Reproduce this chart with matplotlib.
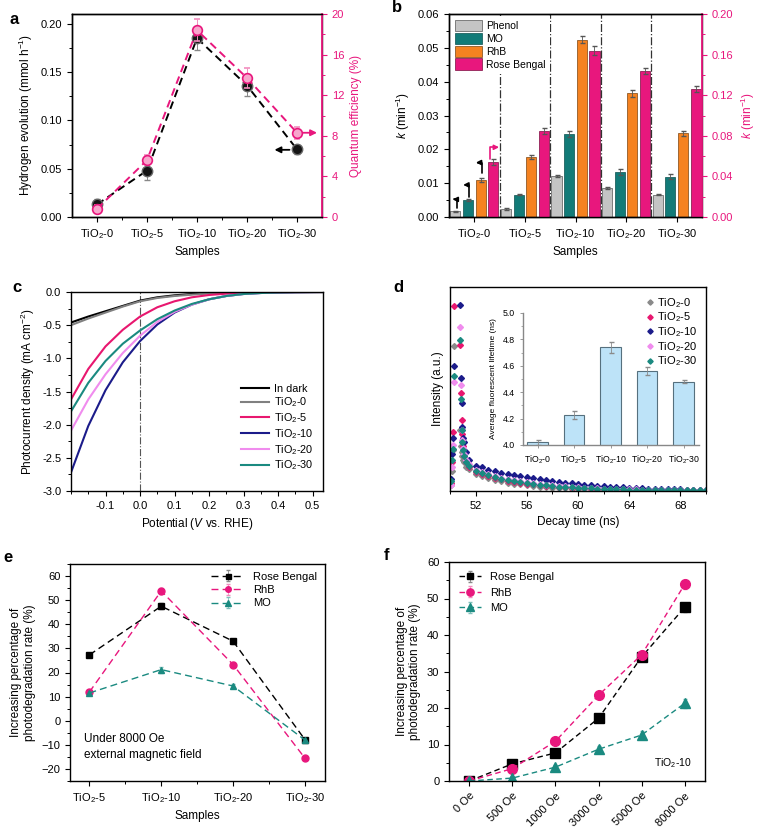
import numpy as np
import matplotlib
matplotlib.use("Agg")
import matplotlib.pyplot as plt
from matplotlib.ticker import MultipleLocator, FixedLocator
from matplotlib.patches import Patch

plt.rcParams['font.family'] = ['Liberation Sans', 'DejaVu Sans']
plt.rcParams['mathtext.fontset'] = 'custom'
plt.rcParams['mathtext.rm'] = 'Liberation Sans'
plt.rcParams['mathtext.it'] = 'Liberation Sans:italic'
plt.rcParams['mathtext.bf'] = 'Liberation Sans:bold'
plt.rcParams['axes.linewidth'] = 1.0

PINK = '#E8177D'
TEAL = '#127B78'
ORANGE = '#F58220'
GRAY = '#C4C4C4'
NAVY = '#1B1B8A'
VIOLET = '#F08CEE'

samples = ['TiO$_2$-0', 'TiO$_2$-5', 'TiO$_2$-10', 'TiO$_2$-20', 'TiO$_2$-30']

# a: hydrogen evolution and quantum efficiency
h2 = [0.013, 0.048, 0.185, 0.136, 0.070]
h2_err = [0.006, 0.010, 0.012, 0.011, 0.005]
qe = [0.8, 5.6, 18.4, 13.7, 8.3]
qe_err = [0.4, 0.5, 1.1, 1.0, 0.6]

# b: rate constants
phenol = [0.0017, 0.0024, 0.0121, 0.0086, 0.0066]
phenol_err = [0.0002, 0.0002, 0.0003, 0.0002, 0.0001]
mo = [0.0050, 0.0066, 0.0245, 0.0134, 0.0119]
mo_err = [0.0002, 0.0002, 0.0008, 0.0009, 0.0007]
rhb = [0.0108, 0.0178, 0.0524, 0.0366, 0.0247]
rhb_err = [0.0006, 0.0006, 0.0011, 0.0010, 0.0007]
rose = [0.054, 0.085, 0.164, 0.144, 0.126]
rose_err = [0.003, 0.003, 0.004, 0.003, 0.003]

# c: photocurrent curves
potential = [-0.2, -0.15, -0.1, -0.05, 0.0, 0.05, 0.1, 0.15, 0.2, 0.25, 0.3, 0.35, 0.4, 0.45, 0.5, 0.53]
j_dark = [-0.46, -0.37, -0.29, -0.21, -0.13, -0.08, -0.05, -0.03, -0.015, -0.008, -0.004, -0.002, -0.001, 0, 0, 0]
j_0 = [-0.50, -0.40, -0.31, -0.22, -0.14, -0.09, -0.06, -0.04, -0.02, -0.01, -0.005, -0.002, -0.001, 0, 0, 0]
j_5 = [-1.62, -1.16, -0.82, -0.57, -0.37, -0.23, -0.14, -0.08, -0.045, -0.025, -0.012, -0.006, -0.003, -0.001, 0, 0]
j_10 = [-2.72, -2.02, -1.48, -1.06, -0.74, -0.49, -0.31, -0.19, -0.11, -0.06, -0.03, -0.015, -0.007, -0.003, -0.001, 0]
j_20 = [-2.09, -1.62, -1.24, -0.92, -0.66, -0.45, -0.30, -0.19, -0.11, -0.06, -0.03, -0.015, -0.007, -0.003, -0.001, 0]
j_30 = [-1.80, -1.37, -1.04, -0.78, -0.58, -0.41, -0.28, -0.18, -0.11, -0.06, -0.03, -0.015, -0.007, -0.003, -0.001, 0]

# d: decay curves (head + tail)
head_t = [50.05, 50.15, 50.25, 50.34, 50.8, 50.85, 50.9, 50.95, 51.0, 51.1, 51.25]
tail_t = list(np.arange(51.5, 70.01, 0.5))
d_gray = [0.03, 0.10, 0.20, 0.711, 0.30, 0.22, 0.19, 0.17, 0.15, 0.14, 0.12,
          0.110, 0.085, 0.072, 0.062, 0.054, 0.047, 0.041, 0.036, 0.032, 0.028,
          0.025, 0.022, 0.019, 0.017, 0.015, 0.013, 0.012, 0.011, 0.010, 0.009,
          0.008, 0.007, 0.006, 0.006, 0.005, 0.005, 0.004, 0.004, 0.004, 0.003,
          0.003, 0.003, 0.003, 0.002, 0.002, 0.002, 0.002, 0.002]
d_pink = [0.04, 0.14, 0.29, 0.908, 0.715, 0.479, 0.348, 0.28, 0.22, 0.17, 0.14,
          0.120, 0.095, 0.083, 0.073, 0.064, 0.057, 0.051, 0.045, 0.040, 0.036,
          0.032, 0.029, 0.026, 0.023, 0.021, 0.019, 0.017, 0.015, 0.013, 0.012,
          0.011, 0.010, 0.009, 0.008, 0.007, 0.007, 0.006, 0.006, 0.005, 0.005,
          0.004, 0.004, 0.004, 0.003, 0.003, 0.003, 0.003, 0.002]
d_navy = [0.06, 0.18, 0.261, 0.613, 0.913, 0.552, 0.432, 0.315, 0.261, 0.24, 0.19,
          0.150, 0.125, 0.118, 0.105, 0.098, 0.090, 0.083, 0.078, 0.072, 0.068,
          0.062, 0.058, 0.053, 0.048, 0.045, 0.041, 0.037, 0.034, 0.031, 0.028,
          0.026, 0.024, 0.022, 0.020, 0.018, 0.016, 0.015, 0.013, 0.012, 0.011,
          0.010, 0.009, 0.008, 0.008, 0.007, 0.006, 0.006, 0.005]
d_violet = [0.03, 0.12, 0.225, 0.536, 0.805, 0.518, 0.30, 0.25, 0.21, 0.18, 0.15,
            0.130, 0.105, 0.093, 0.082, 0.073, 0.066, 0.059, 0.053, 0.048, 0.043,
            0.039, 0.035, 0.031, 0.028, 0.025, 0.023, 0.021, 0.019, 0.017, 0.015,
            0.014, 0.012, 0.011, 0.010, 0.009, 0.008, 0.008, 0.007, 0.006, 0.006,
            0.005, 0.005, 0.004, 0.004, 0.004, 0.003, 0.003, 0.003]
d_teal = [0.05, 0.15, 0.207, 0.566, 0.741, 0.45, 0.30, 0.24, 0.20, 0.17, 0.14,
          0.125, 0.100, 0.088, 0.077, 0.068, 0.061, 0.054, 0.048, 0.043, 0.039,
          0.035, 0.031, 0.028, 0.025, 0.022, 0.020, 0.018, 0.016, 0.014, 0.013,
          0.012, 0.010, 0.009, 0.009, 0.008, 0.007, 0.007, 0.006, 0.006, 0.005,
          0.005, 0.004, 0.004, 0.004, 0.003, 0.003, 0.003, 0.003]
lifetime = [4.02, 4.23, 4.74, 4.56, 4.48]
lifetime_err = [0.02, 0.03, 0.04, 0.03, 0.01]

# e: increase under 8000 Oe
e_samples = ['TiO$_2$-5', 'TiO$_2$-10', 'TiO$_2$-20', 'TiO$_2$-30']
e_rose = [27.3, 47.5, 33.0, -7.8]
e_rhb = [11.9, 53.8, 23.3, -15.5]
e_mo = [11.5, 21.2, 14.4, -8.0]
e_err = [0.8, 1.2, 1.0, 0.8]

# f: increase vs field for TiO2-10
fields = ['0 Oe', '500 Oe', '1000 Oe', '3000 Oe', '5000 Oe', '8000 Oe']
f_rose = [0.0, 4.7, 7.7, 17.2, 34.0, 47.6]
f_rhb = [0.0, 3.4, 10.9, 23.5, 34.6, 53.9]
f_mo = [0.0, 0.8, 3.8, 8.7, 12.6, 21.3]
f_err = [0.3, 0.6, 0.7, 0.9, 1.0, 1.3]

W, H = 759, 827
fig = plt.figure(figsize=(W / 100, H / 100), dpi=100)


def box(l, t, r, b):
    return [l / W, 1 - b / H, (r - l) / W, (b - t) / H]


def ticks(ax, size=8):
    ax.tick_params(which='major', direction='out', length=3.5, width=0.8, labelsize=size)
    ax.tick_params(which='minor', direction='out', length=2, width=0.7)


LBL = 8.5

# ---------------- a ----------------
axa = fig.add_axes(box(72, 14, 322, 217))
xs = np.arange(5)
axa.errorbar(xs, h2, yerr=h2_err, fmt='o', ms=7.5, mfc='#151515', mec='#666666',
             ecolor='#888888', elinewidth=0.7, capsize=2, zorder=3)
axa.plot(xs, h2, '--', color='black', lw=1.4, dashes=(4, 2.5), zorder=2)
axa.set_xlim(-0.5, 4.5)
axa.set_ylim(0, 0.21)
axa.set_yticks([0, 0.05, 0.10, 0.15, 0.20])
axa.set_yticklabels(['0.00', '0.05', '0.10', '0.15', '0.20'])
axa.yaxis.set_minor_locator(MultipleLocator(0.025))
axa.set_xticks(xs)
axa.set_xticklabels(samples)
axa.xaxis.set_minor_locator(FixedLocator([0.5, 1.5, 2.5, 3.5]))
axa.set_ylabel('Hydrogen evolution (mmol h$^{-1}$)', fontsize=LBL)
axa.set_xlabel('Samples', fontsize=LBL)
ticks(axa)
axa2 = axa.twinx()
axa2.plot(xs, qe, '--', color=PINK, lw=1.4, dashes=(4, 2.5), zorder=2)
axa2.errorbar(xs, qe, yerr=qe_err, fmt='o', ms=7, mfc='#F7A6CC', mec=PINK, mew=1.2,
              ecolor='#F28DBF', elinewidth=0.7, capsize=2, zorder=3)
axa2.set_ylim(0, 20)
axa2.set_yticks([0, 4, 8, 12, 16, 20])
axa2.yaxis.set_minor_locator(MultipleLocator(2))
axa2.spines['right'].set_color(PINK)
axa2.spines['right'].set_linewidth(1.3)
axa2.set_ylabel('Quantum efficiency (%)', color=PINK, fontsize=LBL)
ticks(axa2)
axa2.tick_params(axis='y', which='both', colors=PINK)
axa.annotate('', xy=(3.55, 0.0695), xytext=(3.85, 0.0695),
             arrowprops=dict(arrowstyle='-|>', color='black', lw=1.3, mutation_scale=9,
                             shrinkA=0, shrinkB=0))
axa2.annotate('', xy=(4.4, 8.3), xytext=(4.1, 8.3),
              arrowprops=dict(arrowstyle='-|>', color=PINK, lw=1.3, mutation_scale=9,
                              shrinkA=0, shrinkB=0))
fig.text(10 / W, 1 - 20 / H, 'a', fontsize=12, fontweight='bold', va='center')

# ---------------- b ----------------
axb = fig.add_axes(box(449, 14, 702, 217))
w = 0.2
ekw = dict(ecolor='#555555', elinewidth=0.6, capsize=1.8)
axb.bar(xs - 0.375, phenol, w, yerr=phenol_err, color=GRAY, edgecolor='#555555', lw=0.5, error_kw=ekw)
axb.bar(xs - 0.125, mo, w, yerr=mo_err, color=TEAL, edgecolor='#0A4F4D', lw=0.5, error_kw=ekw)
axb.bar(xs + 0.125, rhb, w, yerr=rhb_err, color=ORANGE, edgecolor='#7A4410', lw=0.5, error_kw=ekw)
for xv in [0.5, 1.5, 2.5, 3.5]:
    axb.axvline(xv, color='#333333', ls='-.', lw=0.9, zorder=0)
axb.set_xlim(-0.5, 4.5)
axb.set_ylim(0, 0.06)
axb.set_yticks([0, 0.01, 0.02, 0.03, 0.04, 0.05, 0.06])
axb.set_yticklabels(['0.00', '0.01', '0.02', '0.03', '0.04', '0.05', '0.06'])
axb.yaxis.set_minor_locator(MultipleLocator(0.005))
axb.set_xticks(xs)
axb.set_xticklabels(samples)
axb.set_ylabel('$k$ (min$^{-1}$)', fontsize=LBL)
axb.set_xlabel('Samples', fontsize=LBL)
ticks(axb)
axb2 = axb.twinx()
axb2.bar(xs + 0.375, rose, w, yerr=rose_err, color=PINK, edgecolor='#7A0C40', lw=0.5, error_kw=ekw)
axb2.set_ylim(0, 0.2)
axb2.set_yticks([0, 0.04, 0.08, 0.12, 0.16, 0.20])
axb2.set_yticklabels(['0.00', '0.04', '0.08', '0.12', '0.16', '0.20'])
axb2.yaxis.set_minor_locator(MultipleLocator(0.02))
axb2.spines['right'].set_color(PINK)
axb2.spines['right'].set_linewidth(1.3)
axb2.set_ylabel('$k$ (min$^{-1}$)', color=PINK, fontsize=LBL)
ticks(axb2)
axb2.tick_params(axis='y', which='both', colors=PINK)
hook = dict(arrowstyle='-|>', lw=1.2, mutation_scale=7, shrinkA=0, shrinkB=0,
            connectionstyle='angle,angleA=90,angleB=0,rad=0')
axb.annotate('', xy=(-0.43, 0.0052), xytext=(-0.34, 0.0026), arrowprops=dict(color='black', **hook))
axb.annotate('', xy=(-0.22, 0.0095), xytext=(-0.10, 0.0060), arrowprops=dict(color='black', **hook))
axb.annotate('', xy=(0.03, 0.0161), xytext=(0.146, 0.0129), arrowprops=dict(color='black', **hook))
axb.annotate('', xy=(0.49, 0.0206), xytext=(0.317, 0.0170), arrowprops=dict(color=PINK, **hook))
handles = [Patch(facecolor=GRAY, edgecolor='#555555', lw=0.5, label='Phenol'),
           Patch(facecolor=TEAL, edgecolor='#0A4F4D', lw=0.5, label='MO'),
           Patch(facecolor=ORANGE, edgecolor='#7A4410', lw=0.5, label='RhB'),
           Patch(facecolor=PINK, edgecolor='#7A0C40', lw=0.5, label='Rose Bengal')]
lg = axb2.legend(handles=handles, loc='upper left', fontsize=7.5, frameon=True,
                 borderaxespad=0.15, handlelength=2.6, handleheight=1.3,
                 labelspacing=0.15, handletextpad=0.4, fancybox=False)
lg.get_frame().set_edgecolor('none')
lg.get_frame().set_alpha(1)
fig.text(392 / W, 1 - 8 / H, 'b', fontsize=12, fontweight='bold', va='center')

# ---------------- c ----------------
axc = fig.add_axes(box(71, 292, 323, 491))
axc.axvline(0, color='#555555', ls='-.', lw=0.8)
for j, col, lab in [(j_dark, 'black', 'In dark'), (j_0, '#808080', 'TiO$_2$-0'),
                    (j_5, '#E8176F', 'TiO$_2$-5'), (j_10, NAVY, 'TiO$_2$-10'),
                    (j_20, VIOLET, 'TiO$_2$-20'), (j_30, '#1A8A80', 'TiO$_2$-30')]:
    axc.plot(potential, j, color=col, lw=1.5, label=lab)
axc.set_xlim(-0.2, 0.53)
axc.set_ylim(-3, 0)
axc.set_xticks([-0.1, 0.0, 0.1, 0.2, 0.3, 0.4, 0.5])
axc.xaxis.set_minor_locator(MultipleLocator(0.05))
axc.set_yticks([-3, -2.5, -2, -1.5, -1, -0.5, 0])
axc.yaxis.set_major_formatter(plt.FormatStrFormatter('%.1f'))
axc.xaxis.set_major_formatter(plt.FormatStrFormatter('%.1f'))
axc.yaxis.set_minor_locator(MultipleLocator(0.25))
axc.set_xlabel('Potential ($V$ vs. RHE)', fontsize=LBL)
axc.set_ylabel('Photocurrent density (mA cm$^{-2}$)', fontsize=LBL)
ticks(axc)
axc.legend(loc='lower right', fontsize=7.8, frameon=False, handlelength=2.6,
           labelspacing=0.18, handletextpad=0.4, bbox_to_anchor=(1.0, 0.045))
fig.text(12 / W, 1 - 287 / H, 'c', fontsize=12, fontweight='bold', va='center')

# ---------------- d ----------------
axd = fig.add_axes(box(450, 287, 706, 491))
times = head_t + tail_t
for d, col, lab in [(d_gray, '#8A8A8A', 'TiO$_2$-0'), (d_pink, '#E8176F', 'TiO$_2$-5'),
                    (d_navy, NAVY, 'TiO$_2$-10'), (d_violet, VIOLET, 'TiO$_2$-20'),
                    (d_teal, '#1A8A80', 'TiO$_2$-30')]:
    axd.plot(times, d, 'D', ms=3.0, color=col, label=lab, ls='none')
axd.set_xlim(50, 70)
axd.set_ylim(0, 1.0)
axd.set_yticks([])
axd.xaxis.set_major_locator(MultipleLocator(4))
axd.xaxis.set_minor_locator(MultipleLocator(2))
axd.set_xlabel('Decay time (ns)', fontsize=LBL)
axd.set_ylabel('Intensity (a.u.)', fontsize=LBL)
ticks(axd)
axd.legend(loc='upper right', fontsize=8, frameon=False, handletextpad=0.1,
           labelspacing=0.08, markerscale=0.9, handlelength=1.0, borderaxespad=0.4)
fig.text(393 / W, 1 - 288 / H, 'd', fontsize=12, fontweight='bold', va='center')

axi = fig.add_axes(box(523, 313, 699, 445))
axi.bar(xs, lifetime, 0.56, bottom=0, yerr=lifetime_err, color='#BDE3F8',
        edgecolor='#56707E', lw=0.8, error_kw=dict(ecolor='#8A8A8A', elinewidth=0.6, capsize=1.8))
axi.set_ylim(4.0, 5.0)
axi.set_xlim(-0.4, 4.42)
axi.set_yticks([4.0, 4.2, 4.4, 4.6, 4.8, 5.0])
axi.yaxis.set_major_formatter(plt.FormatStrFormatter('%.1f'))
axi.yaxis.set_minor_locator(MultipleLocator(0.1))
axi.set_xticks(xs)
axi.set_xticklabels(samples)
axi.spines['top'].set_visible(False)
axi.spines['right'].set_visible(False)
axi.spines['left'].set_color('#888888')
axi.spines['bottom'].set_color('#888888')
axi.set_ylabel('Average fluorescent lifetime (ns)', fontsize=6)
axi.tick_params(which='major', direction='out', length=2.5, width=0.6, labelsize=6.3,
                colors='#888888', labelcolor='black')
axi.tick_params(which='minor', direction='out', length=1.5, width=0.5, colors='#888888')
axi.patch.set_alpha(0)

# ---------------- e ----------------
axe = fig.add_axes(box(70, 564, 325, 781))
xe = np.arange(4)
axe.errorbar(xe, e_rose, yerr=e_err, fmt='s--', color='black', ms=4.5, lw=1.0,
             dashes=(5, 3), capsize=1.5, elinewidth=0.6, ecolor='#888888', label='Rose Bengal')
axe.errorbar(xe, e_rhb, yerr=e_err, fmt='o--', color=PINK, ms=5, lw=1.0,
             dashes=(5, 3), capsize=1.5, elinewidth=0.6, ecolor='#F28DBF', label='RhB')
axe.errorbar(xe, e_mo, yerr=e_err, fmt='^--', color='#1A8A80', ms=5, lw=1.0,
             dashes=(5, 3), capsize=1.5, elinewidth=0.6, ecolor='#80BFBA', label='MO')
axe.set_xlim(-0.27, 3.28)
axe.set_ylim(-25, 65)
axe.set_yticks([-20, -10, 0, 10, 20, 30, 40, 50, 60])
axe.yaxis.set_minor_locator(MultipleLocator(5))
axe.set_xticks(xe)
axe.set_xticklabels(e_samples)
axe.xaxis.set_minor_locator(FixedLocator([0.5, 1.5, 2.5]))
axe.set_xlabel('Samples', fontsize=LBL)
axe.set_ylabel('Increasing percentage of\nphotodegradation rate (%)', fontsize=LBL)
axe.text(-0.07, -10.8, 'Under 8000 Oe\nexternal magnetic field', fontsize=8.5,
         ha='left', va='center', linespacing=1.4)
ticks(axe)
axe.legend(loc='upper right', fontsize=8, frameon=False, handlelength=3.0,
           labelspacing=0.3, markerscale=0.8, borderaxespad=0.3)
fig.text(3 / W, 1 - 557 / H, 'e', fontsize=12, fontweight='bold', va='center')

# ---------------- f ----------------
axf = fig.add_axes(box(449, 562, 705, 781))
xf = np.arange(6)
axf.errorbar(xf, f_rose, yerr=f_err, fmt='s--', color='black', ms=6.5, lw=1.0,
             dashes=(4, 2.5), capsize=1.5, elinewidth=0.6, ecolor='#888888', label='Rose Bengal')
axf.errorbar(xf, f_rhb, yerr=f_err, fmt='o--', color=PINK, ms=7, lw=1.0,
             dashes=(4, 2.5), capsize=1.5, elinewidth=0.6, ecolor='#F28DBF', label='RhB')
axf.errorbar(xf, f_mo, yerr=f_err, fmt='^--', color='#1A8A80', ms=7, lw=1.0,
             dashes=(4, 2.5), capsize=1.5, elinewidth=0.6, ecolor='#80BFBA', label='MO')
axf.set_xlim(-0.47, 5.47)
axf.set_ylim(0, 60)
axf.set_yticks([0, 10, 20, 30, 40, 50, 60])
axf.yaxis.set_minor_locator(MultipleLocator(5))
axf.set_xticks(xf)
axf.set_xticklabels(fields, rotation=45, ha='right', rotation_mode='anchor')
axf.set_ylabel('Increasing percentage of\nphotodegradation rate (%)', fontsize=LBL)
axf.text(0.95, 0.08, 'TiO$_2$-10', transform=axf.transAxes, fontsize=7.5, ha='right', va='center')
ticks(axf)
axf.legend(loc='upper left', fontsize=8, frameon=False, handlelength=2.0,
           labelspacing=0.5, markerscale=0.75, borderaxespad=0.5)
fig.text(384 / W, 1 - 556 / H, 'f', fontsize=12, fontweight='bold', va='center')

fig.savefig('out.png', dpi=100)
